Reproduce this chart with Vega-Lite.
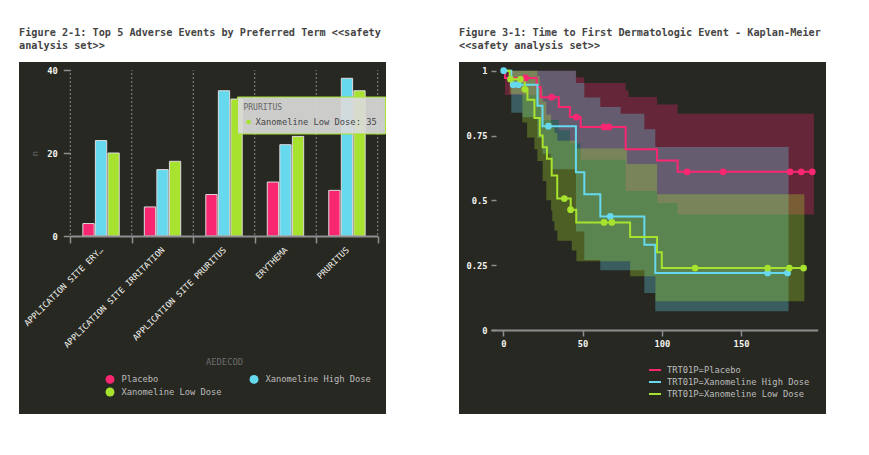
{
  "$schema": "https://vega.github.io/schema/vega-lite/v6.json",
  "background": "white",
  "padding": {"left": 16, "top": 27, "right": 20, "bottom": 20},
  "spacing": 72,
  "resolve": {"scale": {"color": "independent", "fill": "independent"}, "legend": {"color": "independent"}},
  "config": {
    "font": "DejaVu Sans Mono",
    "view": {"fill": "#272822", "stroke": null},
    "title": {"font": "DejaVu Sans Mono", "fontSize": 10.2, "fontWeight": "bold", "color": "#444444", "anchor": "start", "frame": "group", "offset": 11, "lineHeight": 13},
    "axis": {
      "labelFont": "DejaVu Sans Mono", "labelFontSize": 8.75, "labelColor": "#f4f4ee",
      "titleFont": "DejaVu Sans Mono", "titleFontSize": 8.75, "titleFontWeight": "normal", "titleColor": "#6e6e6e",
      "domainColor": "#8e8e8e", "domainWidth": 2, "tickColor": "#8e8e8e", "tickWidth": 1.5, "grid": false
    },
    "rule": {"color": "#9a9a9a", "strokeDash": [1, 3], "strokeWidth": 1, "opacity": 0.85},
    "legend": {"labelFont": "DejaVu Sans Mono", "labelFontSize": 8.75, "labelColor": "#bdbdbd", "padding": 0}
  },
  "datasets": {
    "ae": [
      {"AEDECOD": "APPLICATION SITE ERY…", "TRT01A": "Placebo", "n": 3},
      {"AEDECOD": "APPLICATION SITE ERY…", "TRT01A": "Xanomeline High Dose", "n": 23},
      {"AEDECOD": "APPLICATION SITE ERY…", "TRT01A": "Xanomeline Low Dose", "n": 20},
      {"AEDECOD": "APPLICATION SITE IRRITATION", "TRT01A": "Placebo", "n": 7},
      {"AEDECOD": "APPLICATION SITE IRRITATION", "TRT01A": "Xanomeline High Dose", "n": 16},
      {"AEDECOD": "APPLICATION SITE IRRITATION", "TRT01A": "Xanomeline Low Dose", "n": 18},
      {"AEDECOD": "APPLICATION SITE PRURITUS", "TRT01A": "Placebo", "n": 10},
      {"AEDECOD": "APPLICATION SITE PRURITUS", "TRT01A": "Xanomeline High Dose", "n": 35},
      {"AEDECOD": "APPLICATION SITE PRURITUS", "TRT01A": "Xanomeline Low Dose", "n": 33},
      {"AEDECOD": "ERYTHEMA", "TRT01A": "Placebo", "n": 13},
      {"AEDECOD": "ERYTHEMA", "TRT01A": "Xanomeline High Dose", "n": 22},
      {"AEDECOD": "ERYTHEMA", "TRT01A": "Xanomeline Low Dose", "n": 24},
      {"AEDECOD": "PRURITUS", "TRT01A": "Placebo", "n": 11},
      {"AEDECOD": "PRURITUS", "TRT01A": "Xanomeline High Dose", "n": 38},
      {"AEDECOD": "PRURITUS", "TRT01A": "Xanomeline Low Dose", "n": 35}
    ],
    "tip": [
      {"AEDECOD": "PRURITUS", "TRT01A": "Xanomeline Low Dose", "n": 35}
    ],
    "km": [
      {"TRT01P": "Placebo", "t": 0, "s": 1},
      {"TRT01P": "Placebo", "t": 1, "s": 0.972},
      {"TRT01P": "Placebo", "t": 21, "s": 0.937},
      {"TRT01P": "Placebo", "t": 23.6, "s": 0.898},
      {"TRT01P": "Placebo", "t": 35, "s": 0.86},
      {"TRT01P": "Placebo", "t": 42, "s": 0.821},
      {"TRT01P": "Placebo", "t": 48.8, "s": 0.783},
      {"TRT01P": "Placebo", "t": 77.2, "s": 0.697},
      {"TRT01P": "Placebo", "t": 97, "s": 0.654},
      {"TRT01P": "Placebo", "t": 110, "s": 0.61},
      {"TRT01P": "Placebo", "t": 195, "s": 0.61},
      {"TRT01P": "Xanomeline High Dose", "t": 0, "s": 1},
      {"TRT01P": "Xanomeline High Dose", "t": 5, "s": 0.946},
      {"TRT01P": "Xanomeline High Dose", "t": 21.5, "s": 0.865},
      {"TRT01P": "Xanomeline High Dose", "t": 24.7, "s": 0.786},
      {"TRT01P": "Xanomeline High Dose", "t": 45.8, "s": 0.608},
      {"TRT01P": "Xanomeline High Dose", "t": 51.1, "s": 0.524},
      {"TRT01P": "Xanomeline High Dose", "t": 61.2, "s": 0.438},
      {"TRT01P": "Xanomeline High Dose", "t": 89, "s": 0.329},
      {"TRT01P": "Xanomeline High Dose", "t": 95.9, "s": 0.22},
      {"TRT01P": "Xanomeline High Dose", "t": 179.4, "s": 0.22},
      {"TRT01P": "Xanomeline Low Dose", "t": 0, "s": 1},
      {"TRT01P": "Xanomeline Low Dose", "t": 4, "s": 0.967},
      {"TRT01P": "Xanomeline Low Dose", "t": 13.5, "s": 0.928},
      {"TRT01P": "Xanomeline Low Dose", "t": 15.2, "s": 0.888},
      {"TRT01P": "Xanomeline Low Dose", "t": 19.6, "s": 0.818},
      {"TRT01P": "Xanomeline Low Dose", "t": 23, "s": 0.75},
      {"TRT01P": "Xanomeline Low Dose", "t": 24.8, "s": 0.705},
      {"TRT01P": "Xanomeline Low Dose", "t": 27.5, "s": 0.66},
      {"TRT01P": "Xanomeline Low Dose", "t": 30.5, "s": 0.596},
      {"TRT01P": "Xanomeline Low Dose", "t": 34, "s": 0.507},
      {"TRT01P": "Xanomeline Low Dose", "t": 42.5, "s": 0.464},
      {"TRT01P": "Xanomeline Low Dose", "t": 46, "s": 0.415},
      {"TRT01P": "Xanomeline Low Dose", "t": 80, "s": 0.359},
      {"TRT01P": "Xanomeline Low Dose", "t": 97, "s": 0.3},
      {"TRT01P": "Xanomeline Low Dose", "t": 100, "s": 0.239},
      {"TRT01P": "Xanomeline Low Dose", "t": 189.6, "s": 0.239}
    ],
    "cens": [
      {"TRT01P": "Placebo", "t": 14, "s": 0.972},
      {"TRT01P": "Placebo", "t": 30.5, "s": 0.898},
      {"TRT01P": "Placebo", "t": 46, "s": 0.821},
      {"TRT01P": "Placebo", "t": 63.5, "s": 0.783},
      {"TRT01P": "Placebo", "t": 66.7, "s": 0.783},
      {"TRT01P": "Placebo", "t": 116, "s": 0.61},
      {"TRT01P": "Placebo", "t": 138.7, "s": 0.61},
      {"TRT01P": "Placebo", "t": 181, "s": 0.61},
      {"TRT01P": "Placebo", "t": 188, "s": 0.61},
      {"TRT01P": "Placebo", "t": 195, "s": 0.61},
      {"TRT01P": "Xanomeline High Dose", "t": 0.2, "s": 1},
      {"TRT01P": "Xanomeline High Dose", "t": 6.2, "s": 0.946},
      {"TRT01P": "Xanomeline High Dose", "t": 9.5, "s": 0.946},
      {"TRT01P": "Xanomeline High Dose", "t": 28.4, "s": 0.786},
      {"TRT01P": "Xanomeline High Dose", "t": 67.5, "s": 0.438},
      {"TRT01P": "Xanomeline High Dose", "t": 166.8, "s": 0.22},
      {"TRT01P": "Xanomeline High Dose", "t": 179.4, "s": 0.22},
      {"TRT01P": "Xanomeline Low Dose", "t": 4.5, "s": 0.967},
      {"TRT01P": "Xanomeline Low Dose", "t": 10.8, "s": 0.967},
      {"TRT01P": "Xanomeline Low Dose", "t": 13.6, "s": 0.928},
      {"TRT01P": "Xanomeline Low Dose", "t": 38.5, "s": 0.507},
      {"TRT01P": "Xanomeline Low Dose", "t": 42.4, "s": 0.464},
      {"TRT01P": "Xanomeline Low Dose", "t": 63.5, "s": 0.415},
      {"TRT01P": "Xanomeline Low Dose", "t": 68.5, "s": 0.415},
      {"TRT01P": "Xanomeline Low Dose", "t": 121, "s": 0.239},
      {"TRT01P": "Xanomeline Low Dose", "t": 166.8, "s": 0.239},
      {"TRT01P": "Xanomeline Low Dose", "t": 180.5, "s": 0.239},
      {"TRT01P": "Xanomeline Low Dose", "t": 189.5, "s": 0.239}
    ],
    "ci": [
      {"TRT01P": "Placebo", "t": 0, "lo": 1, "hi": 1},
      {"TRT01P": "Placebo", "t": 1, "lo": 0.906, "hi": 1},
      {"TRT01P": "Placebo", "t": 21, "lo": 0.86, "hi": 1},
      {"TRT01P": "Placebo", "t": 23.6, "lo": 0.81, "hi": 1},
      {"TRT01P": "Placebo", "t": 35, "lo": 0.77, "hi": 1},
      {"TRT01P": "Placebo", "t": 42, "lo": 0.72, "hi": 1},
      {"TRT01P": "Placebo", "t": 46, "lo": 0.72, "hi": 0.975},
      {"TRT01P": "Placebo", "t": 48.8, "lo": 0.657, "hi": 0.975},
      {"TRT01P": "Placebo", "t": 51, "lo": 0.657, "hi": 0.953},
      {"TRT01P": "Placebo", "t": 77.2, "lo": 0.536, "hi": 0.924},
      {"TRT01P": "Placebo", "t": 79, "lo": 0.536, "hi": 0.899},
      {"TRT01P": "Placebo", "t": 97, "lo": 0.49, "hi": 0.87},
      {"TRT01P": "Placebo", "t": 110, "lo": 0.445, "hi": 0.834},
      {"TRT01P": "Placebo", "t": 196, "lo": 0.445, "hi": 0.834},
      {"TRT01P": "Xanomeline High Dose", "t": 0, "lo": 1, "hi": 1},
      {"TRT01P": "Xanomeline High Dose", "t": 5, "lo": 0.838, "hi": 1},
      {"TRT01P": "Xanomeline High Dose", "t": 12, "lo": 0.82, "hi": 1},
      {"TRT01P": "Xanomeline High Dose", "t": 21.5, "lo": 0.74, "hi": 1},
      {"TRT01P": "Xanomeline High Dose", "t": 24.7, "lo": 0.68, "hi": 1},
      {"TRT01P": "Xanomeline High Dose", "t": 30, "lo": 0.62, "hi": 1},
      {"TRT01P": "Xanomeline High Dose", "t": 45.8, "lo": 0.38, "hi": 0.953},
      {"TRT01P": "Xanomeline High Dose", "t": 51.1, "lo": 0.27, "hi": 0.897},
      {"TRT01P": "Xanomeline High Dose", "t": 61.2, "lo": 0.23, "hi": 0.86},
      {"TRT01P": "Xanomeline High Dose", "t": 74, "lo": 0.23, "hi": 0.834},
      {"TRT01P": "Xanomeline High Dose", "t": 89, "lo": 0.143, "hi": 0.774},
      {"TRT01P": "Xanomeline High Dose", "t": 95.9, "lo": 0.072, "hi": 0.706},
      {"TRT01P": "Xanomeline High Dose", "t": 180, "lo": 0.072, "hi": 0.706},
      {"TRT01P": "Xanomeline Low Dose", "t": 0, "lo": 1, "hi": 1},
      {"TRT01P": "Xanomeline Low Dose", "t": 4, "lo": 0.91, "hi": 1},
      {"TRT01P": "Xanomeline Low Dose", "t": 12, "lo": 0.8, "hi": 1},
      {"TRT01P": "Xanomeline Low Dose", "t": 15, "lo": 0.742, "hi": 1},
      {"TRT01P": "Xanomeline Low Dose", "t": 19.6, "lo": 0.697, "hi": 1},
      {"TRT01P": "Xanomeline Low Dose", "t": 21.5, "lo": 0.652, "hi": 0.98},
      {"TRT01P": "Xanomeline Low Dose", "t": 23, "lo": 0.652, "hi": 0.93},
      {"TRT01P": "Xanomeline Low Dose", "t": 24.8, "lo": 0.575, "hi": 0.88},
      {"TRT01P": "Xanomeline Low Dose", "t": 27.1, "lo": 0.5, "hi": 0.83},
      {"TRT01P": "Xanomeline Low Dose", "t": 30.1, "lo": 0.462, "hi": 0.8},
      {"TRT01P": "Xanomeline Low Dose", "t": 30.9, "lo": 0.419, "hi": 0.78},
      {"TRT01P": "Xanomeline Low Dose", "t": 32.2, "lo": 0.384, "hi": 0.76},
      {"TRT01P": "Xanomeline Low Dose", "t": 34.1, "lo": 0.344, "hi": 0.73},
      {"TRT01P": "Xanomeline Low Dose", "t": 43.2, "lo": 0.307, "hi": 0.73},
      {"TRT01P": "Xanomeline Low Dose", "t": 46.1, "lo": 0.265, "hi": 0.7},
      {"TRT01P": "Xanomeline Low Dose", "t": 78, "lo": 0.265, "hi": 0.64},
      {"TRT01P": "Xanomeline Low Dose", "t": 80, "lo": 0.207, "hi": 0.64},
      {"TRT01P": "Xanomeline Low Dose", "t": 96, "lo": 0.111, "hi": 0.64},
      {"TRT01P": "Xanomeline Low Dose", "t": 97, "lo": 0.111, "hi": 0.524},
      {"TRT01P": "Xanomeline Low Dose", "t": 190, "lo": 0.111, "hi": 0.524}
    ]
  },
  "hconcat": [
    {
      "width": 367,
      "height": 352,
      "title": {"text": ["Figure 2-1: Top 5 Adverse Events by Preferred Term <<safety", "analysis set>>"]},
      "layer": [
        {
          "data": {"name": "ae"},
          "transform": [{"filter": "datum.TRT01A == 'Placebo'"}],
          "mark": {"type": "rect", "filled": false, "stroke": "#9a9a9a", "strokeDash": [1, 3], "strokeWidth": 1, "opacity": 0.85},
          "encoding": {
            "x": {"field": "AEDECOD", "type": "nominal", "sort": null, "bandPosition": 0},
            "x2": {"field": "AEDECOD", "bandPosition": 0},
            "y": {"datum": 40},
            "y2": {"datum": 0.001}
          }
        },
        {
          "data": {"name": "tip"},
          "mark": {"type": "rect", "filled": false, "stroke": "#9a9a9a", "strokeDash": [1, 3], "strokeWidth": 1, "opacity": 0.85},
          "encoding": {
            "x": {"field": "AEDECOD", "type": "nominal", "bandPosition": 1},
            "x2": {"field": "AEDECOD", "bandPosition": 1},
            "y": {"datum": 40},
            "y2": {"datum": 0.001}
          }
        },
        {
          "mark": {"type": "rule"},
          "encoding": {
            "x": {"datum": "APPLICATION SITE ERY…", "type": "nominal", "bandPosition": 0},
            "x2": {"datum": "PRURITUS", "bandPosition": 1},
            "y": {"datum": 20}
          }
        },
        {
          "mark": {"type": "rule"},
          "encoding": {
            "x": {"datum": "APPLICATION SITE ERY…", "type": "nominal", "bandPosition": 0},
            "x2": {"datum": "PRURITUS", "bandPosition": 1},
            "y": {"datum": 40}
          }
        },
        {
          "data": {"name": "ae"},
          "mark": {"type": "bar", "stroke": "#dcdcdc", "strokeWidth": 1},
          "encoding": {
            "x": {
              "field": "AEDECOD", "type": "nominal", "sort": null,
              "scale": {"range": [51.3, 358.7], "paddingInner": 0, "paddingOuter": 0},
              "axis": {
                "title": "AEDECOD", "orient": "bottom", "offset": -178, "tickBand": "extent",
                "labelAngle": -45, "labelAlign": "right", "labelBaseline": "middle", "labelPadding": 5,
                "labelFontSize": 8.5, "labelFontWeight": "normal", "labelLimit": 0,
                "tickSize": 7, "titlePadding": 9
              }
            },
            "xOffset": {"field": "TRT01A", "type": "nominal", "sort": null, "scale": {"paddingInner": 0.1, "paddingOuter": 1.0}},
            "y": {
              "field": "n", "type": "quantitative",
              "scale": {"domain": [0, 40], "range": [174, 8], "nice": false},
              "axis": {
                "title": "n", "orient": "left", "offset": -51.3, "values": [0, 20, 40], "domain": false,
                "tickSize": 7, "labelPadding": 6, "labelFontWeight": "bold", "titlePadding": 7
              }
            },
            "color": {
              "field": "TRT01A", "type": "nominal",
              "scale": {"domain": ["Placebo", "Xanomeline Low Dose", "Xanomeline High Dose"], "range": ["#F92672", "#A6E22E", "#66D9EF"]},
              "legend": {
                "title": null, "orient": "none", "legendX": 86.5, "legendY": 312.5, "columns": 2,
                "columnPadding": 27, "rowPadding": 3, "symbolType": "circle", "symbolSize": 80,
                "symbolStrokeWidth": 0, "labelOffset": 7
              }
            }
          }
        },
        {
          "data": {"name": "tip"},
          "mark": {"type": "rect", "fill": "#dadada", "fillOpacity": 0.92, "stroke": "#A6E22E", "strokeWidth": 1},
          "encoding": {
            "x": {"field": "AEDECOD", "type": "nominal", "bandPosition": -1.28},
            "x2": {"field": "AEDECOD", "bandPosition": 1.127},
            "y": {"datum": 33.49},
            "y2": {"datum": 24.58}
          }
        },
        {
          "data": {"name": "tip"},
          "mark": {"type": "text", "align": "left", "baseline": "middle", "font": "DejaVu Sans Mono", "fontSize": 8, "color": "#666666"},
          "encoding": {
            "x": {"field": "AEDECOD", "type": "nominal", "bandPosition": -1.183},
            "y": {"datum": 30.84},
            "text": {"field": "AEDECOD"}
          }
        },
        {
          "data": {"name": "tip"},
          "mark": {"type": "circle", "size": 22, "opacity": 1, "color": "#A6E22E"},
          "encoding": {
            "x": {"field": "AEDECOD", "type": "nominal", "bandPosition": -1.1},
            "y": {"datum": 27.47}
          }
        },
        {
          "data": {"name": "tip"},
          "transform": [{"calculate": "datum.TRT01A + ': ' + datum.n", "as": "tiptext"}],
          "mark": {"type": "text", "align": "left", "baseline": "middle", "font": "DejaVu Sans Mono", "fontSize": 8.75, "color": "#444444"},
          "encoding": {
            "x": {"field": "AEDECOD", "type": "nominal", "bandPosition": -0.987},
            "y": {"datum": 27.47},
            "text": {"field": "tiptext"}
          }
        }
      ]
    },
    {
      "width": 367,
      "height": 352,
      "title": {"text": ["Figure 3-1: Time to First Dermatologic Event - Kaplan-Meier", "<<safety analysis set>>"]},
      "layer": [
        {"mark": {"type": "rule"}, "encoding": {"x": {"datum": 0, "type": "quantitative"}, "y": {"datum": 0}, "y2": {"datum": 1}}},
        {"mark": {"type": "rule"}, "encoding": {"x": {"datum": 50, "type": "quantitative"}, "y": {"datum": 0}, "y2": {"datum": 1}}},
        {"mark": {"type": "rule"}, "encoding": {"x": {"datum": 100, "type": "quantitative"}, "y": {"datum": 0}, "y2": {"datum": 1}}},
        {"mark": {"type": "rule"}, "encoding": {"x": {"datum": 150, "type": "quantitative"}, "y": {"datum": 0}, "y2": {"datum": 1}}},
        {"mark": {"type": "rule"}, "encoding": {"x": {"datum": -4.6, "type": "quantitative"}, "x2": {"datum": 196}, "y": {"datum": 0.25}}},
        {"mark": {"type": "rule"}, "encoding": {"x": {"datum": -4.6, "type": "quantitative"}, "x2": {"datum": 196}, "y": {"datum": 0.5}}},
        {"mark": {"type": "rule"}, "encoding": {"x": {"datum": -4.6, "type": "quantitative"}, "x2": {"datum": 196}, "y": {"datum": 0.75}}},
        {"mark": {"type": "rule"}, "encoding": {"x": {"datum": -4.6, "type": "quantitative"}, "x2": {"datum": 196}, "y": {"datum": 1}}},
        {
          "data": {"name": "ci"},
          "mark": {"type": "area", "interpolate": "step-after", "opacity": 0.3},
          "encoding": {
            "x": {
              "field": "t", "type": "quantitative",
              "scale": {"domain": [-7.8, 198.4], "range": [32, 358.7], "nice": false, "zero": false},
              "axis": {
                "title": null, "orient": "bottom", "offset": -84, "values": [0, 50, 100, 150],
                "tickSize": 6, "labelPadding": 3, "labelFontWeight": "bold"
              }
            },
            "y": {
              "field": "hi", "type": "quantitative",
              "scale": {"domain": [0, 1], "range": [268, 8.7], "nice": false},
              "axis": {
                "title": null, "orient": "left", "offset": -37, "values": [0, 0.25, 0.5, 0.75, 1], "format": ".2~f",
                "domain": false, "tickSize": 5, "labelPadding": 4, "labelFontWeight": "bold"
              }
            },
            "y2": {"field": "lo"},
            "fill": {
              "field": "TRT01P", "type": "nominal",
              "scale": {"domain": ["Xanomeline Low Dose", "Xanomeline High Dose", "Placebo"], "range": ["#A6E22E", "#66D9EF", "#F92672"]},
              "legend": null
            }
          }
        },
        {
          "data": {"name": "km"},
          "mark": {"type": "line", "interpolate": "step-after", "strokeWidth": 2},
          "encoding": {
            "x": {"field": "t", "type": "quantitative"},
            "y": {"field": "s", "type": "quantitative"},
            "color": {
              "field": "TRT01P", "type": "nominal",
              "scale": {"domain": ["Placebo", "Xanomeline High Dose", "Xanomeline Low Dose"], "range": ["#F92672", "#66D9EF", "#A6E22E"]},
              "legend": {
                "title": null, "orient": "none", "legendX": 189, "legendY": 301,
                "symbolType": "stroke", "symbolSize": 144, "symbolStrokeWidth": 2,
                "rowPadding": 0, "labelOffset": 5, "labelExpr": "'TRT01P=' + datum.label"
              }
            }
          }
        },
        {
          "data": {"name": "cens"},
          "mark": {"type": "circle", "size": 45, "opacity": 1},
          "encoding": {
            "x": {"field": "t", "type": "quantitative"},
            "y": {"field": "s", "type": "quantitative"},
            "fill": {"field": "TRT01P", "type": "nominal", "legend": null}
          }
        }
      ]
    }
  ]
}
